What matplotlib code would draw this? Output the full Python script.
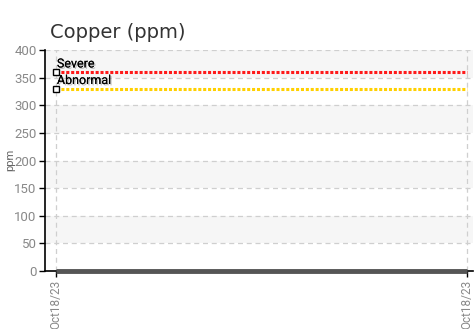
import matplotlib
matplotlib.use("Agg")
import matplotlib.pyplot as plt
import matplotlib.patheffects as pe

# chart data
dates = ["Oct18/23", "Oct18/23"]
values = [0, 0]
limit_names = ["Severe", "Abnormal"]
limit_values = [360, 330]
limit_colors = ["#ff1a1a", "#ffd000"]
y_ticks = [0, 50, 100, 150, 200, 250, 300, 350, 400]

narrow = ["Roboto", "DejaVu Sans"]

fig = plt.figure(figsize=(4.74, 3.29), dpi=100)
ax = fig.add_axes([45 / 474, 1 - 271 / 329, 428 / 474, 221 / 329])

x = list(range(len(dates)))
ax.set_xlim(-0.027, 1.015)
ax.set_ylim(0, 400)

# alternating background bands
for lo in y_ticks[1::2]:
    ax.axhspan(lo, lo + 50, color="#f6f6f6", zorder=0, lw=0)

ax.grid(True, color="#cfcfcf", linestyle=(0, (4, 3)), linewidth=0.9)
ax.set_axisbelow(True)

# limit lines
for name, val, col in zip(limit_names, limit_values, limit_colors):
    ax.plot(x, [val] * len(x), color=col, linestyle=(0, (1, 0.6)), lw=2.2, zorder=3)
    ax.plot([x[0]], [val], marker="s", ms=4.5, mfc="white", mec="black", mew=1.0, zorder=4)
    ax.text(x[0] + 0.002, val + 3, name, fontsize=9, family=narrow, color="black",
            ha="left", va="bottom", zorder=5,
            path_effects=[pe.withSimplePatchShadow(offset=(1, -1), shadow_rgbFace="#999999", alpha=0.6), pe.Normal()])

# data series
ax.plot(x, values, color="#555555", lw=3.5, zorder=6, solid_capstyle="butt", clip_on=False)

ax.set_yticks(y_ticks)
ax.set_xticks(x)
ax.set_xticklabels(dates, rotation=90, family=narrow, fontsize=8.5, color="#888888")
for lab in ax.get_yticklabels():
    lab.set_family(narrow)
    lab.set_fontsize(9.5)
    lab.set_color("#888888")
ax.tick_params(axis="both", length=4, width=1, color="black", pad=2)

for s in ["top", "right"]:
    ax.spines[s].set_visible(False)
ax.spines["left"].set_linewidth(1.2)
ax.spines["bottom"].set_linewidth(1.2)

fig.text(10 / 474, 1 - 160 / 329, "ppm", fontsize=8, family=narrow, color="#666666",
         rotation=90, ha="center", va="center")
fig.text(50 / 474, 1 - 33 / 329, "Copper (ppm)", fontsize=14, color="#333333", va="center", ha="left")

fig.savefig("out.png", dpi=100)
